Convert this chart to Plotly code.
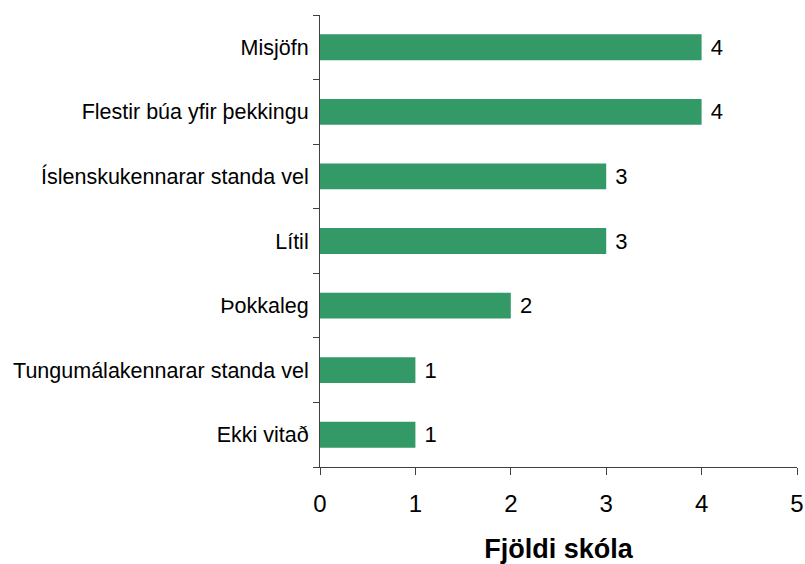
import plotly.graph_objects as go

# categories top to bottom, number of schools for each
categories = ["Misjöfn", "Flestir búa yfir þekkingu", "Íslenskukennarar standa vel",
              "Lítil", "Þokkaleg", "Tungumálakennarar standa vel", "Ekki vitað"]
counts = [4, 4, 3, 3, 2, 1, 1]
x_ticks = [0, 1, 2, 3, 4, 5]

bar_color = "#339966"
font_family = "Liberation Sans, Arial, sans-serif"

fig = go.Figure(go.Bar(
    x=counts,
    y=categories,
    orientation="h",
    marker=dict(color=bar_color, line=dict(width=0)),
    width=0.4,
    text=[f" {v}" for v in counts],
    textposition="outside",
    textfont=dict(size=22, color="black", family=font_family),
    cliponaxis=False,
))

fig.update_layout(
    width=805, height=564,
    margin=dict(l=320, r=8, t=15, b=97, autoexpand=False),
    plot_bgcolor="white", paper_bgcolor="white",
    showlegend=False,
    font=dict(family=font_family, color="black"),
)

fig.update_xaxes(
    range=[0, 5], tickvals=x_ticks,
    automargin=False,
    showgrid=False, zeroline=False,
    showline=True, linecolor="#404040", linewidth=1,
    ticks="outside", ticklen=7, tickcolor="#404040",
    ticklabelstandoff=8,
    tickfont=dict(size=24),
    title=dict(text="<b>Fjöldi skóla</b>", font=dict(size=27), standoff=32),
)

fig.update_yaxes(
    categoryorder="array", categoryarray=categories[::-1],
    tickson="boundaries",
    automargin=False,
    showgrid=False, zeroline=False,
    showline=True, linecolor="#404040", linewidth=1,
    ticks="outside", ticklen=6, tickcolor="#404040",
    ticklabelstandoff=6,
    tickfont=dict(size=21.5),
)

# drop the default page margin so the figure fills the window exactly
fig.write_html("out.html",
               config={"displayModeBar": False},
               post_script="document.body.style.margin='0';document.body.style.overflow='hidden';")
